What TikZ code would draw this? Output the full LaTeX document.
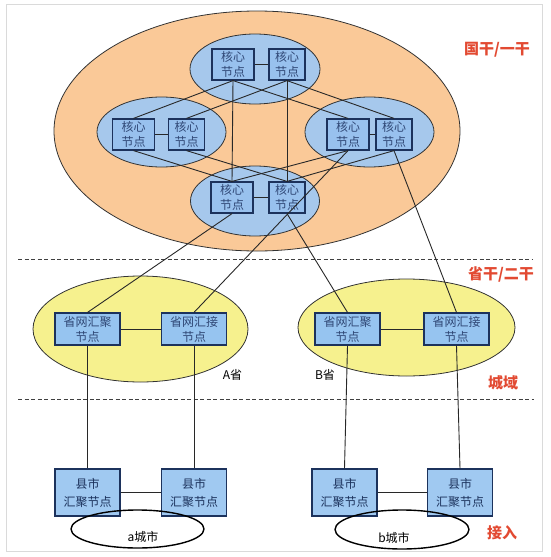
\documentclass[tikz,border=0pt]{standalone}
\usepackage{fontspec}
\setmainfont{Noto Sans CJK SC}
\usetikzlibrary{shapes.geometric}
\definecolor{orangefill}{RGB}{250,201,152}
\definecolor{bluezone}{RGB}{166,200,236}
\definecolor{corefill}{RGB}{152,193,238}
\definecolor{yellowfill}{RGB}{246,241,142}
\definecolor{provfill}{RGB}{150,196,240}
\definecolor{countyfill}{RGB}{160,201,241}
\definecolor{boxline}{RGB}{28,50,92}
\definecolor{coretext}{RGB}{48,72,118}
\definecolor{linkc}{RGB}{40,40,40}
\definecolor{tagred}{RGB}{226,74,50}
\definecolor{framec}{RGB}{218,218,218}
\begin{document}
\begin{tikzpicture}[x=1pt,y=-1pt,
  zone/.style={ellipse, draw=black!80, line width=0.8pt, inner sep=0pt},
  core/.style={draw=boxline, line width=1.2pt, fill=corefill, inner sep=0pt,
    minimum height=31pt, align=center, text=coretext,
    font=\fontsize{12}{14.5}\selectfont},
  corew/.style={core, minimum width=42pt},
  coren/.style={core, minimum width=36pt},
  prov/.style={draw=boxline, line width=1.2pt, fill=provfill, inner sep=0pt,
    minimum width=65pt, minimum height=32pt, align=center, text=coretext,
    font=\fontsize{12}{15}\selectfont},
  county/.style={draw=boxline, line width=1.2pt, fill=countyfill, inner sep=0pt,
    minimum width=65pt, minimum height=47pt, align=center, text=boxline,
    font=\fontsize{12}{18}\selectfont},
  city/.style={ellipse, draw=black, line width=1.4pt, inner sep=0pt},
  link/.style={draw=linkc, line width=0.9pt},
  sep/.style={draw=black!75, line width=0.9pt, dash pattern=on 4pt off 2.5pt},
  tag/.style={text=tagred, inner sep=0pt, font=\fontsize{15}{15}\selectfont\bfseries},
  note/.style={inner sep=0pt, font=\fontsize{12}{12}\selectfont}
]
\useasboundingbox (0,0) rectangle (550,557);
\draw[framec, line width=1pt] (6,4) rectangle (542,551);

% zones
\node[zone, fill=orangefill, minimum width=406pt, minimum height=240pt] (backbone) at (257,131) {};
\node[zone, fill=bluezone, minimum width=130pt, minimum height=70pt] (ztop) at (255,69) {};
\node[zone, fill=bluezone, minimum width=129pt, minimum height=70pt] (zleft) at (161.5,132) {};
\node[zone, fill=bluezone, minimum width=129pt, minimum height=70pt] (zright) at (369.5,132) {};
\node[zone, fill=bluezone, minimum width=129pt, minimum height=70pt] (zbot) at (255,201) {};
\node[zone, fill=yellowfill, minimum width=215pt, minimum height=106pt] (provA) at (140.5,329) {};
\node[zone, fill=yellowfill, minimum width=217pt, minimum height=97pt] (provB) at (406.5,327.5) {};

% separators
\coordinate (s1a) at (18,259); \coordinate (s1b) at (532,259);
\coordinate (s2a) at (18,399); \coordinate (s2b) at (534,399);
\draw[sep] (s1a) -- (s1b);
\draw[sep] (s2a) -- (s2b);

% core nodes
\node[corew] (TL) at (233,64.5) {核心\\节点};
\node[coren] (TR) at (287,64.5) {核心\\节点};
\node[corew] (LL) at (133.5,134.5) {核心\\节点};
\node[coren] (LR) at (186.5,134.5) {核心\\节点};
\node[corew] (RL) at (348,134.5) {核心\\节点};
\node[coren] (RR) at (394,134.5) {核心\\节点};
\node[corew] (BL) at (232,197.5) {核心\\节点};
\node[coren] (BR) at (287,197.5) {核心\\节点};

% province nodes
\node[prov] (A1) at (87.5,329) {省网汇聚\\节点};
\node[prov] (A2) at (194,329) {省网汇接\\节点};
\node[prov] (B1) at (347.5,329) {省网汇聚\\节点};
\node[prov] (B2) at (456.5,329) {省网汇接\\节点};

% county nodes
\node[county] (a1) at (87.5,492.5) {县市\\汇聚节点};
\node[county] (a2) at (194,492.5) {县市\\汇聚节点};
\node[county] (b1) at (344.5,492.5) {县市\\汇聚节点};
\node[county] (b2) at (460,492.5) {县市\\汇聚节点};

% city ellipses
\node[city, minimum width=133pt, minimum height=38pt] (ca) at (137.5,529) {};
\node[city, minimum width=134pt, minimum height=39pt] (cb) at (402,529.5) {};
\node[note] (tca) at (143,537) {a城市};
\node[note] (tcb) at (394,538) {b城市};

% labels
\node[note] (lA) at (232.5,375) {A省};
\node[note] (lB) at (325,375) {B省};
\node[tag] (t1) at (497,50) {国干/一干};
\node[tag] (t2) at (501,274) {省干/二干};
\node[tag] (t3) at (503,383) {城域};
\node[tag] (t4) at (502,533) {接入};

% core links
\draw[link] (TL.east) -- (TR.west);
\draw[link] (LL.east) -- (LR.west);
\draw[link] (RL.east) -- (RR.west);
\draw[link] (BL.east) -- (BR.west);
\draw[link] (TL.south) -- (LL.north);
\draw[link] (TL.south) -- (RL.north);
\draw[link] (TL.south) -- (BL.north);
\draw[link] (TR.south) -- (LR.north);
\draw[link] (TR.south) -- (RR.north);
\draw[link] (TR.south) -- (BR.north);
\draw[link] (LL.south) -- (BL.north);
\draw[link] (LR.south) -- (BR.north);
\draw[link] (RL.south) -- (BL.north);
\draw[link] (RR.south) -- (BR.north);

% core to province
\draw[link] (BL.south) -- (A1.north);
\draw[link] (RL.south) -- (A2.north);
\draw[link] (BR.south) -- (B1.north);
\draw[link] (RR.south) -- (B2.north);

% province links
\draw[link] (A1.east) -- (A2.west);
\draw[link] (B1.east) -- (B2.west);
\draw[link] (A1.south) -- (a1.north);
\draw[link] (A2.south) -- (a2.north);
\draw[link] (B1.south) -- (b1.north);
\draw[link] (B2.south) -- (b2.north);

% county links
\draw[link] (a1.east) -- (a2.west);
\draw[link] (b1.east) -- (b2.west);
\end{tikzpicture}
\end{document}
